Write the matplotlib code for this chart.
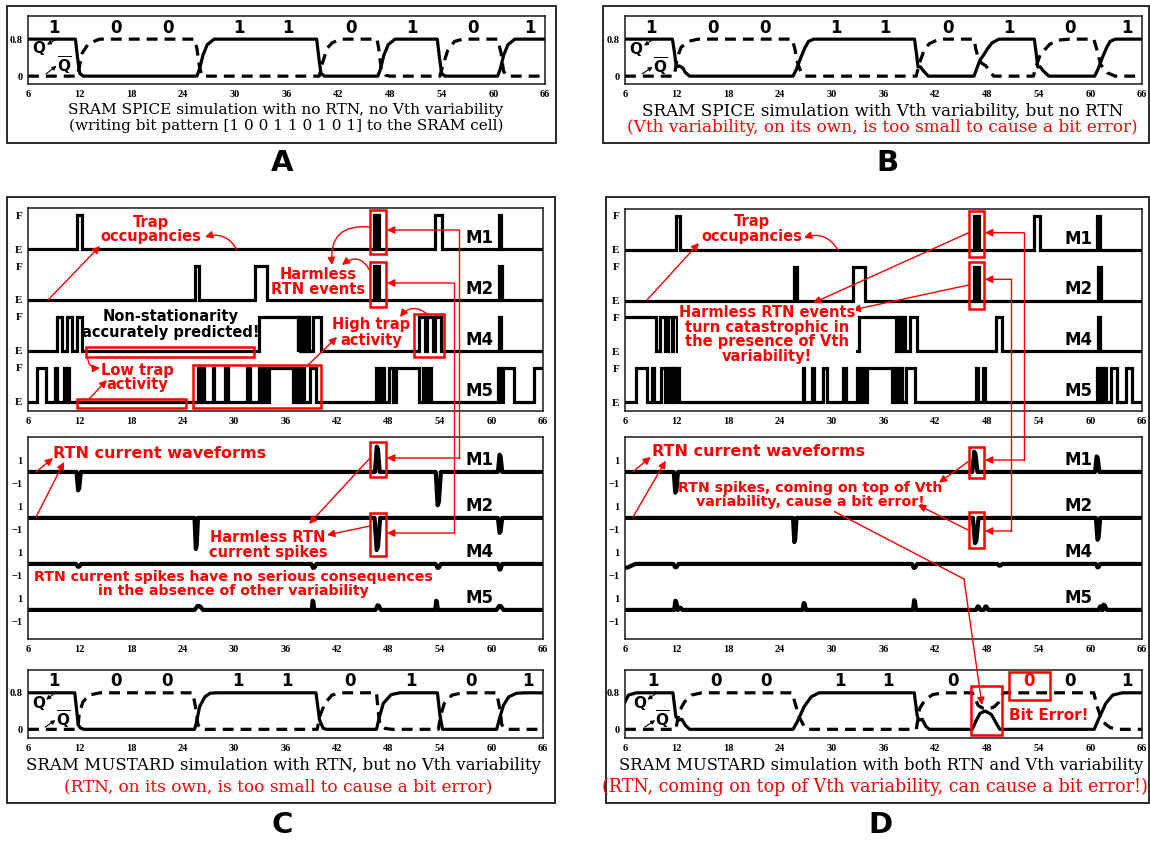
import numpy as np
import matplotlib
matplotlib.use("Agg")
import matplotlib.pyplot as plt
from matplotlib.patches import Rectangle, FancyArrowPatch
from matplotlib.lines import Line2D

W, H = 1150, 842
plt.rcParams['font.family'] = ['DejaVu Sans']
plt.rcParams['mathtext.fontset'] = 'dejavusans'

# ---------------- data ----------------
X_TICKS = [6, 12, 18, 24, 30, 36, 42, 48, 54, 60, 66]
BITS = ['1', '0', '0', '1', '1', '0', '1', '0', '1']
BITS_D = ['1', '0', '0', '1', '1', '0', '0', '0', '1']
BIT_T = [9.0, 16.2, 22.2, 30.5, 36.2, 43.5, 50.6, 57.6, 64.2]
BIT_T_D = [9.2, 16.6, 22.4, 30.9, 36.5, 44.1, 52.9, 57.6, 64.3]
ROW_NAMES = ['M1', 'M2', 'M4', 'M5']

# SRAM node voltages (time, volts)
A_Q_T = [6, 11.5, 11.75, 12.0, 12.4, 25.6, 25.9, 26.3, 26.8, 27.6, 39.5, 39.75, 40.0, 40.4,
         46.6, 46.9, 47.3, 47.8, 48.6, 53.5, 53.75, 54.0, 54.4, 60.5, 60.8, 61.2, 61.7, 62.5, 66]
A_Q_V = [0.8, 0.8, 0.4, 0.06, 0, 0, 0.15, 0.45, 0.68, 0.8, 0.8, 0.4, 0.06, 0,
         0, 0.15, 0.45, 0.68, 0.8, 0.8, 0.4, 0.06, 0, 0, 0.15, 0.45, 0.68, 0.8, 0.8]
A_QB_T = [6, 11.7, 11.9, 12.3, 13.0, 14.3, 25.3, 25.6, 25.9, 26.2, 39.8, 40.2, 40.7, 41.3, 42.3,
          46.5, 46.7, 47.0, 47.5, 48.0, 53.8, 54.1, 54.7, 55.5, 56.5, 60.5, 60.9, 61.2, 61.6, 66]
A_QB_V = [0, 0, 0.15, 0.5, 0.7, 0.8, 0.8, 0.6, 0.2, 0, 0, 0.3, 0.6, 0.72, 0.8,
          0.8, 0.6, 0.15, 0.02, 0, 0, 0.2, 0.55, 0.75, 0.8, 0.8, 0.5, 0.1, 0, 0]

B_Q_T = [6, 11.5, 11.75, 11.95, 12.3, 12.7, 13.0, 13.5, 25.5, 25.9, 26.4, 26.9, 27.3, 27.9,
         39.6, 39.85, 40.0, 40.3, 40.6, 41.2, 46.5, 46.8, 47.2, 47.6, 48.1, 48.6, 49.4,
         53.5, 53.75, 53.9, 54.2, 54.5, 55.2, 60.5, 60.9, 61.4, 61.9, 62.3, 62.9, 66]
B_Q_V = [0.8, 0.8, 0.5, 0.2, 0.22, 0.18, 0.08, 0, 0, 0.15, 0.4, 0.62, 0.75, 0.8,
         0.8, 0.45, 0.2, 0.2, 0.12, 0, 0, 0.15, 0.35, 0.45, 0.6, 0.72, 0.8,
         0.8, 0.45, 0.2, 0.2, 0.12, 0, 0, 0.15, 0.4, 0.62, 0.75, 0.8, 0.8]
B_QB_T = [6, 11.7, 11.9, 12.1, 12.5, 13.3, 14.5, 25.4, 25.7, 26.0, 26.4, 26.9,
          39.8, 40.2, 40.7, 41.3, 42.2, 43.0, 46.5, 46.7, 47.0, 47.4, 47.9, 48.3, 48.8,
          53.4, 53.6, 54.2, 55.3, 56.3, 57.6, 60.4, 60.8, 61.2, 62.0, 62.9, 66]
B_QB_V = [0, 0, 0.2, 0.42, 0.62, 0.75, 0.8, 0.8, 0.6, 0.3, 0.1, 0,
          0, 0.3, 0.55, 0.7, 0.78, 0.8, 0.8, 0.6, 0.38, 0.28, 0.22, 0.1, 0,
          0, 0.15, 0.47, 0.69, 0.78, 0.8, 0.8, 0.55, 0.25, 0.07, 0, 0]

C_Q_T = [6, 11.45, 11.65, 11.85, 12.1, 12.5, 25.4, 25.6, 26.0, 26.6, 27.2, 28.0,
         39.55, 39.97, 40.4, 40.8, 46.6, 46.9, 47.4, 48.3, 49.3, 53.7, 54.0, 54.3,
         60.6, 61.0, 61.4, 62.0, 62.9, 63.9, 66]
C_Q_V = [0.8, 0.8, 0.45, 0.1, 0.03, 0, 0, 0.13, 0.5, 0.71, 0.79, 0.8,
         0.8, 0.2, 0.02, 0, 0, 0.24, 0.57, 0.76, 0.8, 0.8, 0.3, 0,
         0, 0.28, 0.53, 0.71, 0.79, 0.8, 0.8]
C_QB_T = [6, 11.8, 11.97, 12.4, 13.1, 14.4, 25.2, 25.5, 25.8, 26.2, 39.7, 39.97, 40.6, 41.4, 42.6,
          46.6, 46.8, 47.0, 47.6, 48.4, 53.8, 54.1, 54.5, 55.4, 56.6, 60.6, 61.0, 61.2, 61.6, 66]
C_QB_V = [0, 0, 0.35, 0.6, 0.75, 0.8, 0.8, 0.5, 0.1, 0, 0, 0.28, 0.57, 0.75, 0.8,
          0.8, 0.39, 0.1, 0.02, 0, 0, 0.31, 0.57, 0.75, 0.8, 0.8, 0.42, 0.1, 0, 0]

D_Q_T = [6, 6.4, 7.3, 11.56, 11.9, 12.2, 12.6, 13.0, 13.5, 25.5, 26.0, 26.8, 27.6, 28.5,
         39.57, 39.9, 40.1, 40.5, 40.9, 41.3, 46.3, 46.7, 47.2, 47.8, 48.5, 49.1, 49.5,
         60.45, 61.0, 61.8, 62.6, 63.7, 66]
D_Q_V = [0.6, 0.75, 0.8, 0.8, 0.28, 0.2, 0.22, 0.09, 0, 0, 0.17, 0.5, 0.71, 0.8,
         0.8, 0.31, 0.2, 0.22, 0.07, 0, 0, 0.17, 0.35, 0.4, 0.33, 0.13, 0,
         0, 0.24, 0.57, 0.75, 0.8, 0.8]
D_QB_T = [6, 11.9, 12.1, 12.3, 12.9, 13.7, 14.9, 25.4, 25.7, 26.2, 26.8, 27.2,
          39.8, 40.2, 40.8, 41.7, 42.9, 46.3, 46.6, 47.0, 47.6, 48.3, 48.9, 49.4, 49.9,
          60.4, 60.8, 61.4, 62.3, 63.1, 66]
D_QB_V = [0, 0, 0.2, 0.39, 0.6, 0.75, 0.8, 0.8, 0.6, 0.28, 0.06, 0,
          0, 0.46, 0.64, 0.76, 0.8, 0.8, 0.68, 0.52, 0.46, 0.45, 0.5, 0.6, 0.8,
          0.8, 0.5, 0.17, 0.04, 0, 0]

# trap occupancy: intervals (start, end) where trap is Filled
C_M1_TRAP = [(11.7, 12.3), (46.35, 46.55), (46.65, 46.95), (53.4, 54.2), (60.85, 61.15)]
C_M2_TRAP = [(25.5, 25.9), (32.4, 33.8), (46.35, 46.55), (46.65, 46.95), (60.9, 61.2)]
C_M4_TRAP = [(9.4, 10.0), (10.6, 11.1), (11.7, 12.3), (32.9, 37.4), (37.5, 37.7), (37.8, 38.0),
             (38.1, 38.3), (38.5, 38.7), (39.2, 40.1), (51.5, 52.3), (52.5, 53.2),
             (53.4, 54.1), (60.85, 61.15)]
C_M5_TRAP = [(7.1, 8.15), (9.2, 9.4), (10.2, 10.4), (10.6, 10.8), (25.8, 26.0), (26.2, 26.5),
             (27.5, 27.7), (28.9, 29.3), (31.5, 31.9), (32.9, 33.2), (33.4, 33.7), (34.1, 36.9),
             (37.2, 37.4), (37.6, 37.8), (38.0, 38.2), (38.9, 39.6), (46.6, 46.9),
             (47.1, 47.5), (48.1, 48.5), (48.9, 51.6), (52.0, 52.3), (52.6, 53.0), (60.8, 61.1),
             (61.3, 62.6), (65.0, 66.5)]
D_M1_TRAP = [(11.9, 12.4), (46.5, 46.7), (46.8, 47.05), (53.5, 54.2), (60.8, 61.1)]
D_M2_TRAP = [(25.6, 26.0), (32.5, 33.9), (46.5, 46.7), (46.8, 47.05), (60.85, 61.2)]
D_M4_TRAP = [(5.0, 9.6), (10.1, 10.6), (11.0, 11.4), (11.6, 12.0), (33.2, 37.5), (37.6, 37.8),
             (37.9, 38.1), (38.3, 38.5), (39.1, 39.9), (49.1, 49.7), (60.85, 61.15)]
D_M5_TRAP = [(7.3, 8.6), (9.1, 9.4), (10.2, 10.6), (10.8, 11.1), (11.3, 11.5), (11.6, 11.8),
             (11.9, 12.3), (26.6, 26.8), (27.7, 27.9), (29.0, 29.4), (31.3, 31.7), (32.9, 33.2),
             (33.4, 33.7), (34.1, 37.0), (37.1, 37.3), (37.5, 37.7), (37.9, 38.2), (38.6, 39.6),
             (46.7, 47.0), (47.5, 47.8), (60.8, 61.0), (61.2, 61.4), (61.6, 61.8), (62.4, 63.1),
             (64.1, 64.8)]

# RTN current spikes: (time, amplitude, width)
C_M1_CUR = [(11.9, -1.6, 0.5), (46.7, 2.2, 0.55), (53.8, -2.9, 0.6), (61.0, 1.5, 0.5)]
C_M2_CUR = [(25.6, -2.7, 0.4), (46.7, -2.8, 0.65), (61.0, -1.3, 0.5)]
C_M4_CUR = [(11.9, -0.25, 0.6), (39.3, -0.35, 0.6), (53.8, -0.35, 0.6), (61.0, -0.5, 0.5)]
C_M5_CUR = [(25.9, 0.35, 1.0), (39.2, 0.8, 0.3), (46.8, 0.4, 0.6), (53.6, 0.8, 0.3), (61.0, 0.35, 0.8)]
D_M1_CUR = [(11.9, -1.8, 0.5), (46.6, 1.75, 0.6), (60.8, 1.35, 0.5)]
D_M2_CUR = [(25.7, -2.1, 0.4), (46.7, -2.2, 0.65), (60.9, -1.9, 0.5)]
D_M4_CUR = [(6.0, -0.35, 2.4), (11.9, -0.3, 0.6), (39.6, -0.35, 0.6), (49.5, -0.15, 0.6), (60.9, -0.3, 0.5)]
D_M5_CUR = [(11.9, 0.8, 0.4), (12.4, 0.2, 0.5), (26.8, 0.6, 0.4), (39.6, 0.85, 0.35),
            (47.0, 0.3, 0.5), (47.9, 0.3, 0.5), (61.2, 0.3, 0.5), (61.6, 0.45, 0.6)]

# ---------------- figure ----------------
fig = plt.figure(figsize=(11.5, 8.42), dpi=100)
fig.patch.set_facecolor('white')
renderer = fig.canvas.get_renderer()

RED = '#ff0000'
SERIF_B = dict(family='Liberation Serif', weight='bold')


def fx(x):
    return x / W


def fy(y):
    return 1 - y / H


def P(x, y):
    return (fx(x), fy(y))


def box_axes(l, t, r, b):
    return fig.add_axes([fx(l), fy(b), (r - l) / W, (b - t) / H])


def panel_border(l, t, r, b):
    fig.add_artist(Rectangle(P(l, b), (r - l) / W, (b - t) / H, transform=fig.transFigure,
                             fill=False, ec='#2a2a2a', lw=1.4))


def base_style(ax, ylim):
    ax.set_xlim(6, 66)
    ax.set_ylim(*ylim)
    ax.set_xticks(X_TICKS)
    ax.set_xticklabels([str(v) for v in X_TICKS], fontsize=7.5, **SERIF_B)
    ax.tick_params(length=0, pad=4)
    for s in ax.spines.values():
        s.set_linewidth(1.1)
        s.set_color('#1a1a1a')


def red_box(ax, x0, y0, x1, y1, lw=1.8):
    ax.add_patch(Rectangle((x0, y0), x1 - x0, y1 - y0, fill=False, ec=RED, lw=lw,
                           clip_on=False, zorder=5))


def sram_panel(ax, qt, qv, qbt, qbv, bit_t, bits, bit_colors, ylim, qpos, qbpos):
    base_style(ax, ylim)
    ax.set_yticks([0, 0.8])
    ax.set_yticklabels(['0', '0.8'], fontsize=7.5, **SERIF_B)
    ax.plot(qbt, qbv, color='k', lw=2.3, ls=(0, (3.4, 2.2)), dash_capstyle='butt')
    ax.plot(qt, qv, color='k', lw=2.3, solid_joinstyle='round')
    for t, b, c in zip(bit_t, bits, bit_colors):
        ax.text(t, 1.05, b, ha='center', va='center', fontsize=12, weight='bold', color=c)
    ax.text(qpos[0], qpos[1], 'Q', ha='center', va='center', fontsize=11, weight='bold')
    ax.text(qbpos[0], qbpos[1], r'$\overline{\mathbf{Q}}$', ha='center', va='center', fontsize=11)
    ax.annotate('', xy=(qpos[0] + 0.9, qpos[1] + 0.08), xytext=(qpos[0] + 2.0, 0.8),
                arrowprops=dict(arrowstyle='-|>', color='k', lw=0.8, mutation_scale=6,
                                shrinkA=0, shrinkB=0))
    ax.annotate('', xy=(qbpos[0] - 0.9, qbpos[1] + 0.0), xytext=(qbpos[0] - 2.1, 0.05),
                arrowprops=dict(arrowstyle='-|>', color='k', lw=0.8, mutation_scale=6,
                                shrinkA=0, shrinkB=0))


def trap_panel(ax, rows):
    base_style(ax, (-4.765, 1.206))
    offs = [0, -1.5, -3.0, -4.5]
    ticks, labels = [], []
    for off, ints, name in zip(offs, rows, ROW_NAMES):
        xs, ys = [4.0], [off]
        for s, e in ints:
            xs += [s, s, e, e]
            ys += [off, off + 1, off + 1, off]
        xs.append(68)
        ys.append(off)
        ax.plot(xs, ys, color='k', lw=2.3, solid_joinstyle='miter')
        ax.text(58.6, off + 0.33, name, ha='center', va='center', fontsize=12, weight='bold')
        ticks += [off + 1, off]
        labels += ['F', 'E']
    ax.set_yticks(ticks)
    ax.set_yticklabels(labels, fontsize=8, **SERIF_B)
    return offs


def current_panel(ax, rows):
    base_style(ax, (-14.53, 3.04))
    offs = [0, -4, -8, -12]
    ticks, labels = [], []
    for off, spikes, name in zip(offs, rows, ROW_NAMES):
        xs, ys = [4.0], [off]
        for t, a, w in sorted(spikes):
            xs += [t - w / 2, t - w / 8, t + w / 8, t + w / 2]
            ys += [off, off + a, off + a * 0.9, off]
        xs.append(68)
        ys.append(off)
        ax.plot(xs, ys, color='k', lw=3.0, solid_joinstyle='round')
        ax.text(58.6, off + 1.0, name, ha='center', va='center', fontsize=12, weight='bold')
        ticks += [off + 1, off - 1]
        labels += ['1', '\u22121']
    ax.set_yticks(ticks)
    ax.set_yticklabels(labels, fontsize=7.5, **SERIF_B)


def ftext(x, y, s, size=10.5, color=RED, bg=False, ls=1.0):
    kw = {}
    if bg:
        kw['bbox'] = dict(fc='white', ec='none', pad=0.5)
    return fig.text(fx(x), fy(y), s, ha='center', va='center', fontsize=size, weight='bold',
                    color=color, linespacing=ls, **kw)


def farrow(p0, p1, rad=0.0, lw=1.0, ms=11, color=RED):
    fig.add_artist(FancyArrowPatch(P(*p0), P(*p1), transform=fig.transFigure, arrowstyle='-|>',
                                   mutation_scale=ms, color=color, lw=lw,
                                   connectionstyle='arc3,rad=%s' % rad, shrinkA=0, shrinkB=0))


def fline(pts, lw=1.0, color=RED):
    fig.add_artist(Line2D([fx(p[0]) for p in pts], [fy(p[1]) for p in pts],
                          transform=fig.transFigure, color=color, lw=lw))


def fit_title(x, y, s, target_w, color='k'):
    t = fig.text(fx(x), fy(y), s, ha='center', va='center', family='DejaVu Serif',
                 fontsize=12, color=color)
    w = t.get_window_extent(renderer).width
    t.set_fontsize(12 * target_w / w)
    return t


# ---------- panel borders ----------
panel_border(7, 6, 556, 143)
panel_border(603, 6, 1149, 143)
panel_border(7, 197, 555, 803)
panel_border(606, 197, 1149, 803)

# ---------- A ----------
axA = box_axes(28, 16, 545, 84)
sram_panel(axA, A_Q_T, A_Q_V, A_QB_T, A_QB_V, BIT_T, BITS, ['k'] * 9, (-0.17, 1.30),
           (7.3, 0.6), (10.2, 0.22))
fit_title(286, 110, 'SRAM SPICE simulation with no RTN, no Vth variability', 434)
fit_title(286, 125.5, '(writing bit pattern [1 0 0 1 1 0 1 0 1] to the SRAM cell)', 433)
fig.text(fx(282), fy(163), 'A', ha='center', va='center', fontsize=21, weight='bold')

# ---------- B ----------
axB = box_axes(625, 16, 1142, 84)
sram_panel(axB, B_Q_T, B_Q_V, B_QB_T, B_QB_V, BIT_T, BITS, ['k'] * 9, (-0.17, 1.30),
           (7.3, 0.58), (10.1, 0.2))
fit_title(883, 111, 'SRAM SPICE simulation with Vth variability, but no RTN', 478)
fit_title(882, 128, '(Vth variability, on its own, is too small to cause a bit error)', 509, color=RED)
fig.text(fx(887), fy(163), 'B', ha='center', va='center', fontsize=21, weight='bold')

# ---------- C ----------
axCt = box_axes(28, 208, 543, 411)
trap_panel(axCt, [C_M1_TRAP, C_M2_TRAP, C_M4_TRAP, C_M5_TRAP])
red_box(axCt, 45.85, -0.15, 47.7, 1.15)
red_box(axCt, 45.85, -1.7, 47.7, -0.38)
red_box(axCt, 12.75, -3.18, 32.3, -2.88)
red_box(axCt, 51.0, -3.18, 54.5, -1.91)
red_box(axCt, 11.7, -4.68, 24.4, -4.41)
red_box(axCt, 25.2, -4.68, 40.1, -3.41)

axCc = box_axes(28, 437, 543, 639)
current_panel(axCc, [C_M1_CUR, C_M2_CUR, C_M4_CUR, C_M5_CUR])
red_box(axCc, 45.85, -0.43, 47.7, 2.6)
red_box(axCc, 45.85, -7.3, 47.7, -3.57)

axCs = box_axes(28, 670, 543, 738)
sram_panel(axCs, C_Q_T, C_Q_V, C_QB_T, C_QB_V, BIT_T, BITS, ['k'] * 9, (-0.19, 1.30),
           (7.2, 0.57), (10.1, 0.2))

ftext(151, 229.5, 'Trap\noccupancies')
farrow((48, 300), (100, 246))
farrow((237, 250), (205, 237), rad=0.4)
ftext(318, 282, 'Harmless\nRTN events')
farrow((370, 227), (332, 265), rad=0.6)
farrow((370, 271), (342, 265), rad=0.6)
ftext(171, 324.5, 'Non-stationarity\naccurately predicted!', color='k')
ftext(371, 332.5, 'High trap\nactivity')
farrow((307, 366), (337, 337))
farrow((427, 314), (400, 317), rad=0.5)
ftext(137.5, 377.5, 'Low trap\nactivity')
farrow((87.5, 357), (100, 368), rad=0.5)
farrow((89, 399), (107, 380))
fline([(459, 230), (459, 458)])
farrow((459, 230), (387, 230))
farrow((459, 458), (387, 458))
fline([(453.5, 283), (453.5, 533)])
farrow((453.5, 283), (387, 283))
farrow((453.5, 533), (387, 533))
ftext(160, 453, 'RTN current waveforms', size=11.5)
farrow((36, 472), (53, 458))
farrow((36, 517), (64, 462))
ftext(268, 544.5, 'Harmless RTN\ncurrent spikes')
farrow((370, 458), (309, 524))
farrow((370, 526), (327, 535))
ftext(233, 583.5, 'RTN current spikes have no serious consequences\nin the absence of other variability',
      size=10.2)

fit_title(283, 766, 'SRAM MUSTARD simulation with RTN, but no Vth variability', 514)
fit_title(278, 787, '(RTN, on its own, is too small to cause a bit error)', 425, color=RED)
fig.text(fx(282), fy(825), 'C', ha='center', va='center', fontsize=21, weight='bold')

# ---------- D ----------
axDt = box_axes(625, 209, 1142, 411)
trap_panel(axDt, [D_M1_TRAP, D_M2_TRAP, D_M4_TRAP, D_M5_TRAP])
red_box(axDt, 45.9, -0.2, 47.7, 1.15)
red_box(axDt, 45.9, -1.74, 47.7, -0.37)

axDc = box_axes(625, 437, 1142, 639)
current_panel(axDc, [D_M1_CUR, D_M2_CUR, D_M4_CUR, D_M5_CUR])
red_box(axDc, 45.9, -0.55, 47.7, 2.2)
red_box(axDc, 45.9, -6.6, 47.7, -3.5)

axDs = box_axes(625, 670, 1142, 738)
bit_cols = ['k'] * 9
bit_cols[6] = RED
sram_panel(axDs, D_Q_T, D_Q_V, D_QB_T, D_QB_V, BIT_T_D, BITS_D, bit_cols, (-0.19, 1.30),
           (7.7, 0.57), (10.4, 0.2))
red_box(axDs, 46.1, -0.12, 49.8, 0.95)
red_box(axDs, 50.6, 0.64, 55.3, 1.26)
axDs.text(55.2, 0.31, 'Bit Error!', ha='center', va='center', fontsize=11, weight='bold', color=RED)

ftext(752, 229, 'Trap\noccupancies')
farrow((647, 300), (699, 243))
farrow((838, 250), (804, 237.7), rad=0.4)
ftext(767, 334.5, 'Harmless RTN events\nturn catastrophic in\nthe presence of Vth\nvariability!', bg=True, ls=0.95)
farrow((968.6, 232.7), (813, 303))
farrow((968.6, 285), (852.5, 310))
fline([(1024, 232.7), (1024, 460)])
farrow((1024, 232.7), (985, 232.7))
farrow((1024, 460), (985, 460))
fline([(1011.4, 279.3), (1011.4, 531)])
farrow((1011.4, 279.3), (985, 279.3))
farrow((1011.4, 531), (985, 531))
ftext(759, 451.7, 'RTN current waveforms', size=11.5)
farrow((633, 471.7), (650.7, 457))
farrow((633, 517), (665.7, 460.7))
ftext(810, 494.7, 'RTN spikes, coming on top of Vth\nvariability, cause a bit error!', size=10.2)
farrow((968, 461.7), (939, 482.7))
farrow((968, 530), (918, 505))
fline([(834.6, 511.7), (964, 579)])
farrow((964, 579), (982, 705))

fit_title(881, 766, 'SRAM MUSTARD simulation with both RTN and Vth variability', 522)
fit_title(875, 787, '(RTN, coming on top of Vth variability, can cause a bit error!)', 545, color=RED)
fig.text(fx(880), fy(825), 'D', ha='center', va='center', fontsize=21, weight='bold')

fig.savefig('out.png', dpi=100, facecolor='white')
